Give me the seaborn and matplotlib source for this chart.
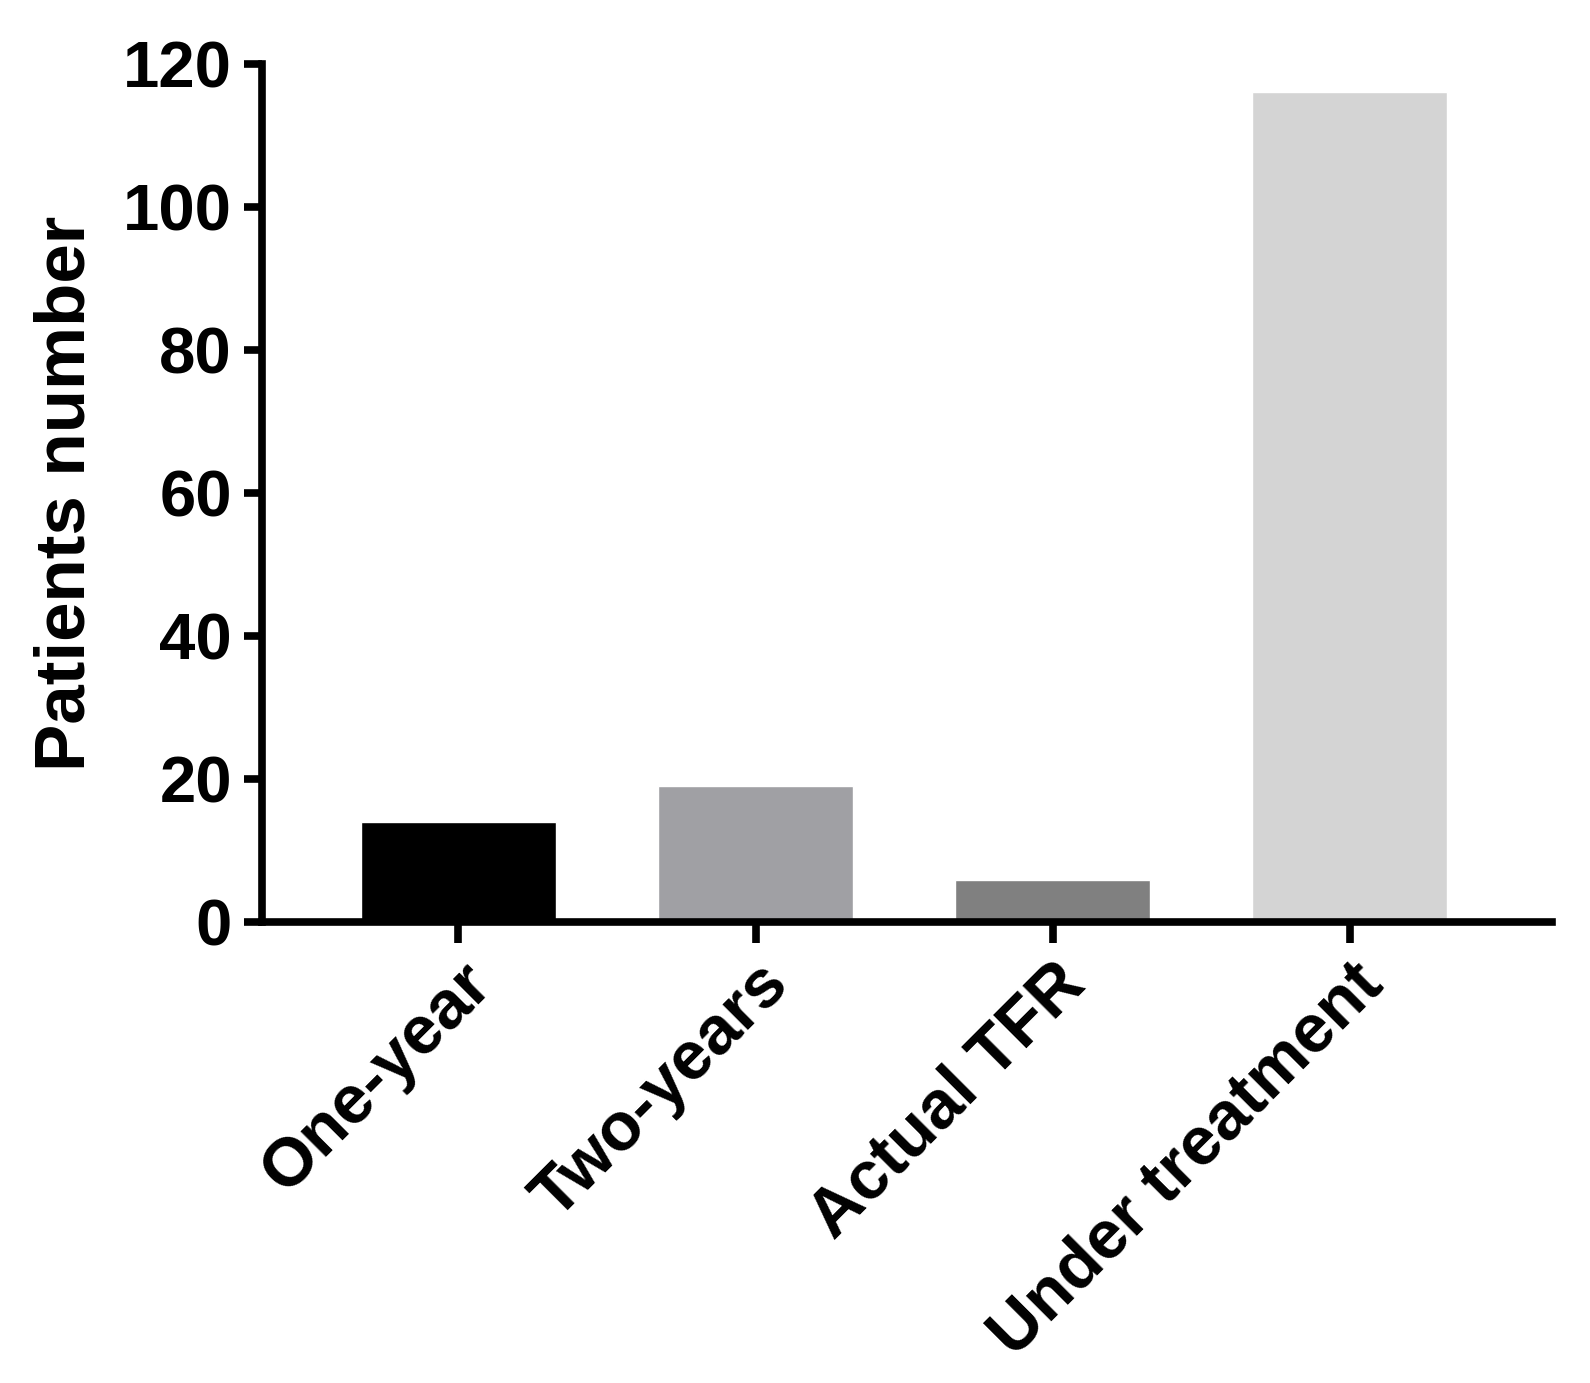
import seaborn as sns
import pandas as pd
import matplotlib.pyplot as plt
import matplotlib

sns.set_style('ticks')
matplotlib.rcParams['font.family'] = ['Liberation Sans', 'DejaVu Sans']
matplotlib.rcParams['font.weight'] = 'bold'
matplotlib.rcParams['text.color'] = 'black'
matplotlib.rcParams['axes.labelcolor'] = 'black'
matplotlib.rcParams['axes.edgecolor'] = 'black'
matplotlib.rcParams['xtick.color'] = 'black'
matplotlib.rcParams['ytick.color'] = 'black'

categories = ['One-year', 'Two-years', 'Actual TFR', 'Under treatment']
patients = [14, 19, 6, 116]
colors = ['#000000', '#A0A0A4', '#808080', '#D4D4D4']


def plot_patients():
    fig = plt.figure(figsize=(15.9, 13.83), dpi=100)
    ax = fig.add_axes([0.165, 0.333, 0.811, 0.621])

    data = pd.DataFrame({'group': categories, 'patients': patients})
    sns.barplot(data=data, x='group', y='patients', hue='group',
                palette=colors, width=0.655, saturation=1, legend=False, ax=ax)

    ax.set_xlim(-0.66, 3.68)
    ax.set_ylim(0, 120)
    ax.set_yticks(range(0, 121, 20))
    ax.set_xlabel('')
    ax.set_ylabel('Patients number', fontsize=51, fontweight='bold', labelpad=17)

    for side in ['top', 'right']:
        ax.spines[side].set_visible(False)
    for side in ['left', 'bottom']:
        ax.spines[side].set_linewidth(5.5)
    ax.tick_params(axis='y', length=13, width=5.5, labelsize=47, pad=9)
    ax.tick_params(axis='x', length=15, width=5.5, labelsize=49, pad=6)
    plt.setp(ax.get_xticklabels(), rotation=45, ha='right', rotation_mode='anchor',
             fontweight='bold')
    plt.setp(ax.get_yticklabels(), fontweight='bold')

    fig.savefig('out.png', dpi=100)


plot_patients()
